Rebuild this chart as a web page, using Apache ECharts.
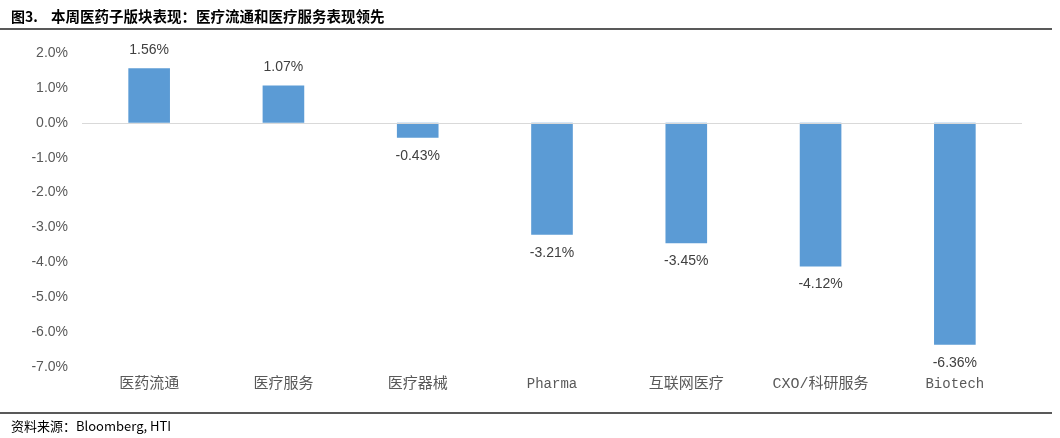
<!DOCTYPE html>
<html>
<head>
<meta charset="utf-8">
<script src="https://cdn.jsdelivr.net/npm/echarts@6/dist/echarts.min.js"></script>
<style>
  html, body { margin: 0; padding: 0; background: #fff; }
  #main { width: 1060px; height: 438px; }
</style>
</head>
<body>
<div id="main"></div>
<script>
var categories = ['医药流通', '医疗服务', '医疗器械', 'Pharma', '互联网医疗', 'CXO/科研服务', 'Biotech'];
var weeklyChange = [1.56, 1.07, -0.43, -3.21, -3.45, -4.12, -6.36];

var myChart = echarts.init(document.getElementById('main'));

var barData = weeklyChange.map(function (v) {
  return {
    value: v,
    label: { position: v >= 0 ? 'top' : 'bottom' }
  };
});

var option = {
  animation: false,
  title: [
    {
      text: '图3.',
      left: 6,
      top: 5,
      textStyle: { fontFamily: 'Noto Sans CJK SC', fontSize: 14, fontWeight: 'bold', color: '#000' }
    },
    {
      text: '本周医药子版块表现：医疗流通和医疗服务表现领先',
      left: 46,
      top: 4,
      textStyle: { fontFamily: 'Noto Sans CJK SC', fontSize: 14.5, fontWeight: 'bold', color: '#000' }
    },
    {
      text: '资料来源：Bloomberg, HTI',
      left: 6,
      top: 415,
      textStyle: { fontFamily: 'Noto Sans CJK SC', fontSize: 13, fontWeight: 'normal', color: '#000' }
    }
  ],
  graphic: [
    { type: 'line', shape: { x1: 0, y1: 29, x2: 1052, y2: 29 }, style: { stroke: '#595959', lineWidth: 2 } },
    { type: 'line', shape: { x1: 0, y1: 413, x2: 1052, y2: 413 }, style: { stroke: '#595959', lineWidth: 2 } }
  ],
  grid: { left: 82, right: 38, top: 53, bottom: 71 },
  xAxis: {
    type: 'category',
    data: categories,
    axisLine: { show: false, onZero: false },
    axisTick: { show: false },
    axisLabel: {
      interval: 0,
      hideOverlap: false,
      margin: 10,
      fontFamily: 'Liberation Mono, Noto Sans CJK SC',
      fontSize: 15,
      color: '#595959',
      formatter: function (v) {
        return /^[A-Za-z]+$/.test(v) ? '{lat|' + v + '}' : v;
      },
      rich: {
        lat: { fontFamily: 'Liberation Mono', fontSize: 14, color: '#595959' }
      }
    }
  },
  yAxis: {
    type: 'value',
    min: -7,
    max: 2,
    interval: 1,
    axisLine: { show: false },
    axisTick: { show: false },
    splitLine: { show: false },
    axisLabel: {
      margin: 14,
      fontFamily: 'Liberation Sans',
      fontSize: 14,
      color: '#595959',
      formatter: function (v) { return v.toFixed(1) + '%'; }
    }
  },
  series: [
    {
      type: 'bar',
      data: barData,
      barWidth: '31%',
      itemStyle: { color: '#5b9bd5' },
      label: {
        show: true,
        distance: 11,
        fontFamily: 'Liberation Sans',
        fontSize: 14,
        color: '#404040',
        formatter: function (p) { return p.value.toFixed(2) + '%'; }
      },
      markLine: {
        silent: true,
        symbol: 'none',
        label: { show: false },
        lineStyle: { color: '#d9d9d9', width: 1, type: 'solid' },
        data: [{ yAxis: 0 }]
      }
    }
  ]
};

myChart.setOption(option);
</script>
</body>
</html>
